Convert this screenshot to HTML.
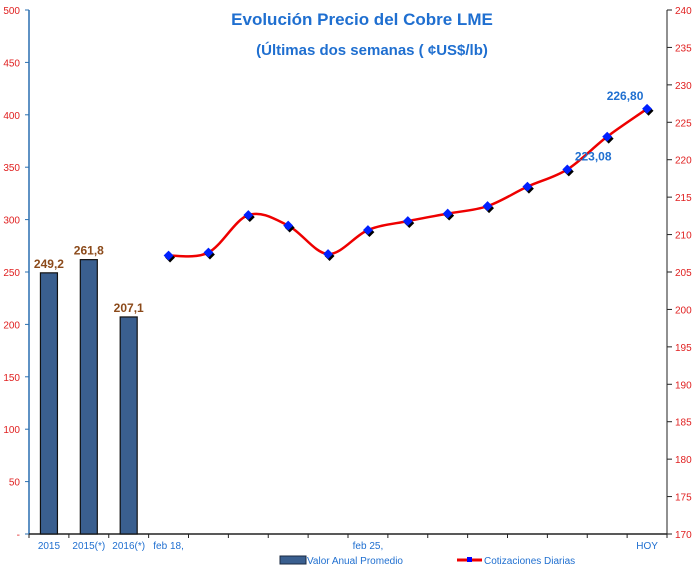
<!DOCTYPE html>
<html><head><meta charset="utf-8">
<style>
html,body{margin:0;padding:0;background:#fff;}
svg{display:block;font-family:"Liberation Sans",sans-serif;}
</style></head>
<body>
<svg id="chart" width="695" height="571" viewBox="0 0 695 571">
  <text x="362" y="25" text-anchor="middle" font-size="17" font-weight="bold" fill="#1f6fd0">Evolución Precio del Cobre LME</text>
  <text x="372" y="55" text-anchor="middle" font-size="15" font-weight="bold" fill="#1f6fd0">(Últimas dos semanas ( ¢US$/lb)</text>
  <g id="left-axis"></g>
  <g id="right-axis"></g>
  <g id="x-axis"></g>
  <g id="bars"></g>
  <g id="line"></g>
  <g>
    <g>
      <rect x="280" y="556" width="26" height="8" fill="#3a5f8f" stroke="#1a2a40" stroke-width="1"/>
      <text x="307" y="564" font-size="10" fill="#1f6fd0">Valor Anual Promedio</text>
    </g>
    <g>
      <line x1="457" y1="560" x2="482" y2="560" stroke="#e00" stroke-width="3"/>
      <rect x="467" y="557" width="5" height="5" fill="#00f"/>
      <text x="484" y="564" font-size="10" fill="#1f6fd0">Cotizaciones Diarias</text>
    </g>
  </g>
</svg>
<script>
const categories = ["2015","2015(*)","2016(*)","feb 18,","","","","","feb 25,","","","","","","","HOY"];
const barValues = [249.2, 261.8, 207.1];
const barLabels = ["249,2","261,8","207,1"];
const lineValues = [207.2, 207.6, 212.6, 211.2, 207.4, 210.6, 211.8, 212.8, 213.8, 216.4, 218.7, 223.08, 226.80];
const lineLabels = {11:"223,08", 12:"226,80"};
const leftTicks = [0,50,100,150,200,250,300,350,400,450,500];
const rightTicks = [170,175,180,185,190,195,200,205,210,215,220,225,230,235,240];

const NS="http://www.w3.org/2000/svg";
const X0=29, X1=667, YB=534, YT=10;
const catW=(X1-X0)/categories.length;
const yL=v=>YB-(v/500)*(YB-YT);
const yR=v=>YB-((v-170)/70)*(YB-YT);
const xC=i=>X0+(i+0.5)*catW;
function mk(tag,attrs,parent,text){const e=document.createElementNS(NS,tag);for(const k in attrs)e.setAttribute(k,attrs[k]);if(text!==undefined)e.textContent=text;parent.appendChild(e);return e;}

const la=document.getElementById('left-axis');
mk('line',{x1:X0,y1:YT,x2:X0,y2:YB,stroke:'#2a6fb0','stroke-width':1.5},la);
leftTicks.forEach(t=>{
  const y=yL(t);
  mk('line',{x1:X0-4,y1:y,x2:X0,y2:y,stroke:'#2a6fb0'},la);
  const tx=mk('text',{x:X0-9,y:y+4,'text-anchor':'end','font-size':10,fill:'#e02020'},la,t===0?'-':String(t));
  
  
});
const ra=document.getElementById('right-axis');
mk('line',{x1:X1,y1:YT,x2:X1,y2:YB,stroke:'#222','stroke-width':1},ra);
rightTicks.forEach(t=>{
  const y=yR(t);
  mk('line',{x1:X1,y1:y,x2:X1+5,y2:y,stroke:'#222'},ra);
  const tx=mk('text',{x:X1+8,y:y+4,'font-size':10,fill:'#e02020'},ra,String(t));
  
  
});
const xa=document.getElementById('x-axis');
mk('line',{x1:X0,y1:YB,x2:X1,y2:YB,stroke:'#222','stroke-width':1.5},xa);
for(let i=0;i<=categories.length;i++){mk('line',{x1:X0+i*catW,y1:YB,x2:X0+i*catW,y2:YB+4,stroke:'#222'},xa);}
categories.forEach((c,i)=>{
  if(!c)return;
  const tx=mk('text',{x:xC(i),y:YB+15,'text-anchor':'middle','font-size':10,fill:'#1f6fd0'},xa,c);
  
  
});
const bg=document.getElementById('bars');
barValues.forEach((v,i)=>{
  const r=mk('rect',{x:xC(i)-8.5,y:yL(v),width:17,height:YB-yL(v),fill:'#3a5f8f',stroke:'#111','stroke-width':1.2},bg);
  
  
  const t=mk('text',{x:xC(i),y:yL(v)-5,'text-anchor':'middle','font-size':12,'font-weight':'bold',fill:'#8b4a1a'},bg,barLabels[i]);
  
  
});
const lg=document.getElementById('line');
const pts=lineValues.map((v,i)=>[xC(i+3),yR(v)]);
let d='M'+pts[0][0]+','+pts[0][1];
for(let i=0;i<pts.length-1;i++){
  const p0=pts[i-1]||pts[i],p1=pts[i],p2=pts[i+1],p3=pts[i+2]||p2;
  const c1=[p1[0]+(p2[0]-p0[0])/6,p1[1]+(p2[1]-p0[1])/6];
  const c2=[p2[0]-(p3[0]-p1[0])/6,p2[1]-(p3[1]-p1[1])/6];
  d+=` C${c1[0]},${c1[1]} ${c2[0]},${c2[1]} ${p2[0]},${p2[1]}`;
}
const path=mk('path',{d:d,fill:'none',stroke:'#e00','stroke-width':2.5},lg);


pts.forEach((p,i)=>{
  mk('rect',{x:p[0]-3.5+1.5,y:p[1]-3.5+2,width:7,height:7,fill:'#000',transform:`rotate(45 ${p[0]+1.5} ${p[1]+2})`},lg);
  const m=mk('rect',{x:p[0]-3.5,y:p[1]-3.5,width:7,height:7,fill:'#0020ff',transform:`rotate(45 ${p[0]} ${p[1]})`},lg);
  
  
  if(lineLabels[i]){
    const last=i===lineValues.length-1;
    const t=mk('text',{x:last?p[0]-22:p[0]-14,y:last?p[1]-9:p[1]+24,'text-anchor':'middle','font-size':12,'font-weight':'bold',fill:'#1f6fd0'},lg,lineLabels[i]);
    
    
  }
});
</script>
</body></html>
